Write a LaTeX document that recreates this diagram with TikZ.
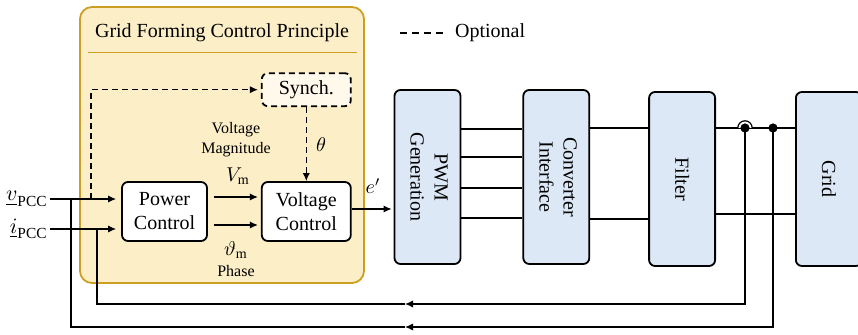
\documentclass[tikz,border=0pt]{standalone}
\usepackage{amsmath}
\usepackage{fontspec}
\setmainfont{Liberation Serif}
\usetikzlibrary{positioning,arrows.meta}
\definecolor{gfmfill}{HTML}{FCEFC8}
\definecolor{gfmline}{HTML}{CC9F22}
\definecolor{synfill}{HTML}{FFF9EC}
\definecolor{hwfill}{HTML}{DCE8F5}
\begin{document}
\begin{tikzpicture}[x=0.5pt,y=-0.5pt,
  blk/.style={draw,rounded corners=3pt,line width=0.9pt,fill=white,align=center,inner sep=0pt},
  hw/.style={blk,fill=hwfill,minimum width=33pt,minimum height=87pt},
  con/.style={line width=0.6pt},
  arr/.style={con,-{Latex[length=4pt,width=3.6pt]}},
  opt/.style={dash pattern=on 3pt off 2pt},
  small/.style={font=\fontsize{8}{10}\selectfont,align=center},
  inp/.style={anchor=east,inner sep=1pt,font=\fontsize{11}{13}\selectfont}]
\path[use as bounding box] (0,0) rectangle (858,335);
\draw[gfmline,fill=gfmfill,line width=0.9pt,rounded corners=6pt] (80,7) rectangle (364,283);
\node(NTitle) at (222,33){Grid Forming Control Principle};
\draw[gfmline,line width=0.5pt] (88,53) -- (357,53);
\coordinate(NL1) at (400,33);
\coordinate(NL2) at (445,33);
\draw[con,dash pattern=on 3.5pt off 2.5pt] (NL1) -- (NL2);
\node[right=1.5pt of NL2](NOpt){Optional};
\node[blk,minimum width=42.5pt,minimum height=29.5pt](NPow) at (164.5,211.5){Power\\Control};
\node[blk,minimum width=44.5pt,minimum height=29.5pt,right=26.5pt of NPow](NVolt){Voltage\\Control};
\node[blk,opt,fill=synfill,minimum width=44.5pt,minimum height=16.5pt,above=37pt of NVolt](NSyn){Synch.};
\node[hw](NPWM) at (427.5,177){\rotatebox{-90}{\begin{tabular}{@{}c@{}}PWM\\Generation\end{tabular}}};
\node[hw,right=30.5pt of NPWM](NConv){\rotatebox{-90}{\begin{tabular}{@{}c@{}}Converter\\Interface\end{tabular}}};
\node[hw,right=29pt of NConv,yshift=-1pt](NFilt){\rotatebox{-90}{Filter}};
\node[hw,right=39.5pt of NFilt](NGrid){\rotatebox{-90}{Grid}};
\node[inp](NV) at (50,199){$\underline{v}_{\text{PCC}}$};
\node[inp](NI) at (50,229){$\underline{i}_{\text{PCC}}$};
\draw[arr,shorten >=2.5pt] (NV.east) -- (NV.east -| NPow.west);
\draw[arr,shorten >=2.5pt] (NI.east) -- (NI.east -| NPow.west);
\coordinate(NSv) at (91,199);
\draw[arr,opt,shorten >=1.5pt] (NSv) |- (NSyn.west);
\draw[arr,opt] (NSyn.south) -- (NVolt.north);
\node(NTh) at (321,145){$\theta$};
\draw[arr,shorten <=3pt,shorten >=1.5pt] ([yshift=7.25pt]NPow.east) -- ([yshift=7.25pt]NVolt.west);
\draw[arr,shorten <=3pt,shorten >=1.5pt] ([yshift=-6.75pt]NPow.east) -- ([yshift=-6.75pt]NVolt.west);
\node[small](NMag) at (236,140){Voltage\\Magnitude};
\node(NVm) at (238,176){$V_\mathrm{m}$};
\node(NTm) at (236,250){$\vartheta_\mathrm{m}$};
\node[small](NPh) at (236,271){Phase};
\draw[arr,shorten >=1pt] ([yshift=1.25pt]NVolt.east) -- ([yshift=1.25pt]NVolt.east -| NPWM.west);
\node(Ne) at (373,186){$e'$};
\foreach \y in {129,157,188,218}
  \draw[con] (NPWM.east |- 0,\y) -- (NConv.west |- 0,\y);
\foreach \y in {128,219}
  \draw[con] (NConv.east |- 0,\y) -- (NFilt.west |- 0,\y);
\foreach \y in {128,214}
  \draw[con] (NFilt.east |- 0,\y) -- (NGrid.west |- 0,\y);
\coordinate(NCi) at (745,128);
\coordinate(NCv) at (773,128);
\coordinate(NMi) at (405,304);
\coordinate(NMv) at (405,327);
\coordinate(NFi) at (97,229);
\coordinate(NFv) at (71,199);
\draw[arr] (NCi) |- (NMi);
\draw[con] (NMi) -| (NFi);
\draw[arr] (NCv) |- (NMv);
\draw[con] (NMv) -| (NFv);
\draw[con,fill=white] ([xshift=-3.6pt]NCi) arc (180:0:3.6pt);
\fill (NCi) circle (2.3pt);
\fill (NCv) circle (2.3pt);
\end{tikzpicture}
\end{document}
